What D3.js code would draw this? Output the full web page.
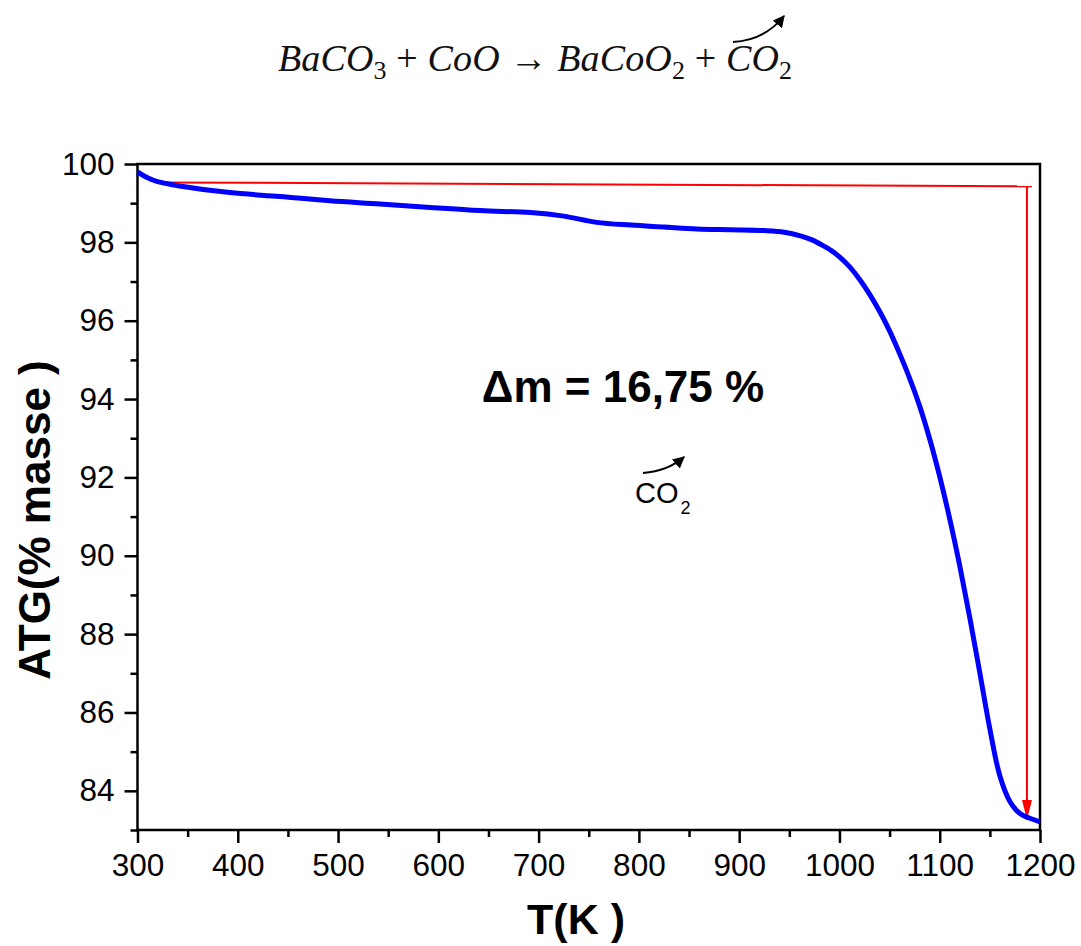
<!DOCTYPE html>
<html><head><meta charset="utf-8">
<script src="https://cdn.jsdelivr.net/npm/d3@7"></script>
<style>body{margin:0;background:#fff}svg{display:block}</style>
</head><body>
<script>
// ---- data ----
const tempK = [300,310,320,342,392,442,492,542,592,642,692,725,758,792,825,858,892,925,945,962,972,982,992,1000,1010,1020,1030,1040,1050,1060,1070,1080,1090,1100,1110,1120,1130,1140,1150,1160,1170,1180,1190,1200];
const massPct = [99.8,99.65,99.55,99.44,99.27,99.17,99.06,98.98,98.89,98.81,98.76,98.67,98.51,98.44,98.39,98.34,98.32,98.30,98.26,98.16,98.07,97.94,97.79,97.63,97.38,97.06,96.68,96.24,95.74,95.16,94.53,93.82,92.98,92.02,90.94,89.74,88.42,87.01,85.58,84.38,83.73,83.42,83.30,83.21];
const xTicks = [300,400,500,600,700,800,900,1000,1100,1200];
const xMinor = [350,450,550,650,750,850,950,1050,1150];
const yTicks = [84,86,88,90,92,94,96,98,100];
const yMinor = [83,85,87,89,91,93,95,97,99];
// red guide: horizontal from (319, 99.53) to (1192, 99.43), vertical at 1187 down to 83.26
const guideH = [[319,99.53],[1192,99.43]];
const guideV = [[1187,99.43],[1187,83.26]];
const deltaLabel = "Δm = 16,75 %";
const xTitle = "T(K )";
const yTitle = "ATG(% masse )";

const W=1081,H=946;
const svg=d3.select("body").append("svg").attr("width",W).attr("height",H);
const defs=svg.append("defs");
defs.append("marker").attr("id","redHead").attr("viewBox","0 0 20 10").attr("refX",20).attr("refY",5)
  .attr("markerWidth",20).attr("markerHeight",10).attr("markerUnits","userSpaceOnUse").attr("orient","auto")
  .append("path").attr("d","M0,0L20,5L0,10Z").attr("fill","#ff0000");
defs.append("marker").attr("id","blackHead").attr("viewBox","0 0 10 10").attr("refX",9).attr("refY",5)
  .attr("markerWidth",12).attr("markerHeight",12).attr("markerUnits","userSpaceOnUse").attr("orient","auto")
  .append("path").attr("d","M0,0L10,5L0,10Z").attr("fill","#000");

const L=137.5,R=1040,T=164,B=830;
const x=d3.scaleLinear().domain([300,1200]).range([L,R]);
const y=d3.scaleLinear().domain([83,100]).range([B,T]);

const font="'Liberation Sans', Arial, sans-serif";

// minor ticks
const xm=svg.append("g").attr("transform",`translate(0,${B})`)
  .call(d3.axisBottom(x).tickValues(xMinor).tickSize(7).tickFormat(""));
const ym=svg.append("g").attr("transform",`translate(${L},0)`)
  .call(d3.axisLeft(y).tickValues(yMinor).tickSize(7).tickFormat(""));
// major axes
const xa=svg.append("g").attr("transform",`translate(0,${B})`)
  .call(d3.axisBottom(x).tickValues(xTicks).tickFormat(d3.format("d")).tickSize(13).tickPadding(11).tickSizeOuter(0));
const ya=svg.append("g").attr("transform",`translate(${L},0)`)
  .call(d3.axisLeft(y).tickValues(yTicks).tickFormat(d3.format("d")).tickSize(13).tickPadding(10).tickSizeOuter(0));
[xm,ym,xa,ya].forEach(g=>{
  g.selectAll("line").attr("stroke","#000").attr("stroke-width",2.5);
  g.select(".domain").remove();
  g.selectAll("text").attr("font-family",font).attr("font-size",31.5).attr("fill","#000");
});
// frame
svg.append("rect").attr("x",L).attr("y",T).attr("width",R-L).attr("height",B-T)
  .attr("fill","none").attr("stroke","#000").attr("stroke-width",2.5);

// red guides
const lg=d3.line().x(d=>x(d[0])).y(d=>y(d[1]));
svg.append("path").attr("d",lg(guideH)).attr("stroke","#ff0000").attr("stroke-width",2).attr("fill","none");
svg.append("path").attr("d",lg(guideV)).attr("stroke","#ff0000").attr("stroke-width",2).attr("fill","none")
  .attr("marker-end","url(#redHead)");

// data curve
const data=tempK.map((t,i)=>[t,massPct[i]]);
svg.append("path").attr("d",d3.line().x(d=>x(d[0])).y(d=>y(d[1])).curve(d3.curveCatmullRom.alpha(0.5))(data))
  .attr("fill","none").attr("stroke","#0000ff").attr("stroke-width",5).attr("stroke-linejoin","round");

// axis titles
svg.append("text").attr("x",576).attr("y",934).attr("text-anchor","middle")
  .attr("font-family",font).attr("font-weight","bold").attr("font-size",43).text(xTitle);
svg.append("text").attr("transform",`translate(50,${(T+B)/2+23}) rotate(-90)`).attr("text-anchor","middle")
  .attr("font-family",font).attr("font-weight","bold").attr("font-size",44).text(yTitle);

// delta label
svg.append("text").attr("x",623).attr("y",402).attr("text-anchor","middle")
  .attr("font-family",font).attr("font-weight","bold").attr("font-size",44).text(deltaLabel);

// CO2 label in plot
const co=svg.append("text").attr("x",635).attr("y",503).attr("font-family",font).attr("font-size",29);
co.append("tspan").text("CO");
co.append("tspan").attr("font-size",18).attr("dy",11).attr("dx",2).text("2");
svg.append("path").attr("d","M643,473 Q668,471 684,457").attr("fill","none").attr("stroke","#000").attr("stroke-width",2)
  .attr("marker-end","url(#blackHead)");

// equation
const eq=svg.append("text").attr("x",278).attr("y",71).attr("font-family","'Liberation Serif','DejaVu Serif',serif")
  .attr("font-size",38).attr("fill","#111").attr("textLength",514).attr("lengthAdjust","spacing");
const parts=[["BaCO",1],["3",2],[" + ",0],["CoO",1],[" → ",0],["BaCoO",1],["2",2],[" + ",0],["CO",1],["2",2]];
let sub=false;
parts.forEach(([t,k])=>{
  const ts=eq.append("tspan").text(t);
  if(k===1) ts.attr("font-style","italic");
  if(k===2){ts.attr("font-size",26).attr("dy",8);sub=true;}
  else if(sub){ts.attr("dy",-8);sub=false;}
});
svg.append("path").attr("d","M733,42 Q765,40 784,16").attr("fill","none").attr("stroke","#000").attr("stroke-width",2)
  .attr("marker-end","url(#blackHead)");
</script>
</body></html>
